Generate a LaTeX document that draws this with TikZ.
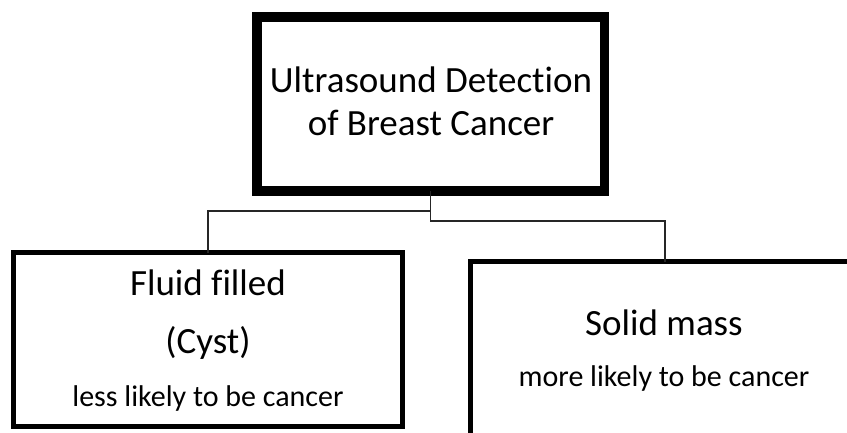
\documentclass[tikz,border=0pt]{standalone}
\usepackage{fontspec}
\setmainfont[Ligatures=NoCommon]{Carlito}
\begin{document}
\begin{tikzpicture}[x=1pt,y=-1pt,
  rootbox/.style={draw=black,line width=9.5pt,fill=white,minimum width=347.5pt,minimum height=174pt,inner sep=0pt,outer sep=0pt},
  leafbox/.style={draw=black,line width=5pt,fill=white,minimum width=389pt,minimum height=174pt,inner sep=0pt,outer sep=0pt},
  bigtext/.style={anchor=base,inner sep=0pt,font=\fontsize{37}{44}\selectfont},
  smalltext/.style={anchor=base,inner sep=0pt,font=\fontsize{30}{36}\selectfont},
  link/.style={draw=black!85,line width=1.3pt}]
\useasboundingbox[clip] (0,0) rectangle (847,432);
\fill[white] (0,0) rectangle (847,432);

% boxes
\node[rootbox] (root) at (430.75,104) {};
\node[leafbox] (cyst) at (208,339.5) {};
\node[leafbox] (solid) at (665,348.5) {};

% elbow connectors
\draw[link] (root.south) -- ++(0,20) -| (cyst.north);
\draw[link] (root.south) -- ++(0,30) -| (solid.north);

% labels
\node[bigtext] (t1) at (431,92) {Ultrasound Detection};
\node[bigtext] (t2) at (431,135) {of Breast Cancer};
\node[bigtext] (c1) at (208,295) {Fluid filled};
\node[bigtext] (c2) at (208,353) {(Cyst)};
\node[smalltext] (c3) at (208,406) {less likely to be cancer};
\node[bigtext] (s1) at (664,335) {Solid mass};
\node[smalltext] (s2) at (664,386) {more likely to be cancer};
\end{tikzpicture}
\end{document}
